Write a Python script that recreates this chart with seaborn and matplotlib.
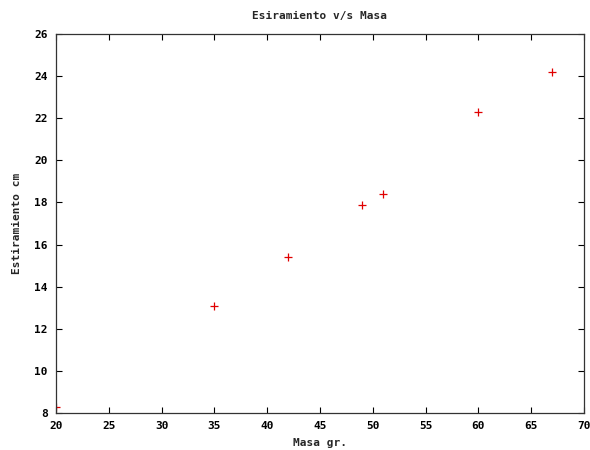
import matplotlib
matplotlib.use('Agg')
import matplotlib.pyplot as plt
import seaborn as sns
import pandas as pd

# Data
masa = [20, 35, 42, 49, 51, 60, 67]
estiramiento = [8.3, 13.1, 15.4, 17.9, 18.4, 22.3, 24.2]
xTicks = list(range(20, 71, 5))
yTicks = list(range(8, 27, 2))

df = pd.DataFrame({'Masa': masa, 'Estiramiento': estiramiento})

sns.set_style('ticks')
plt.rcParams['font.family'] = ['DejaVu Sans Mono']
plt.rcParams['font.weight'] = 'bold'

fig = plt.figure(figsize=(5.9, 4.5), dpi=100)
ax = fig.add_axes([0.0949, 0.0822, 0.8949, 0.8422])

sns.scatterplot(data=df, x='Masa', y='Estiramiento', marker='+', color='#e00000',
                s=30, linewidth=0.9, ax=ax, legend=False)

ax.set_xlim(20, 70)
ax.set_ylim(8, 26)
ax.set_xticks(xTicks)
ax.set_yticks(yTicks)
ax.tick_params(direction='in', top=True, right=True, length=4, width=0.8,
               labelsize=8, colors='black', pad=6)
for lbl in ax.get_xticklabels() + ax.get_yticklabels():
    lbl.set_fontweight('bold')
for sp in ax.spines.values():
    sp.set_linewidth(0.9)
    sp.set_color('#333333')

ax.set_xlabel('Masa gr.', fontsize=8, fontweight='bold', labelpad=5)
ax.set_ylabel('Estiramiento cm', fontsize=8, fontweight='bold', labelpad=9)
ax.set_title('Esiramiento v/s Masa', fontsize=8, fontweight='bold', pad=11)

plt.savefig('out.png', dpi=100)
plt.close()
